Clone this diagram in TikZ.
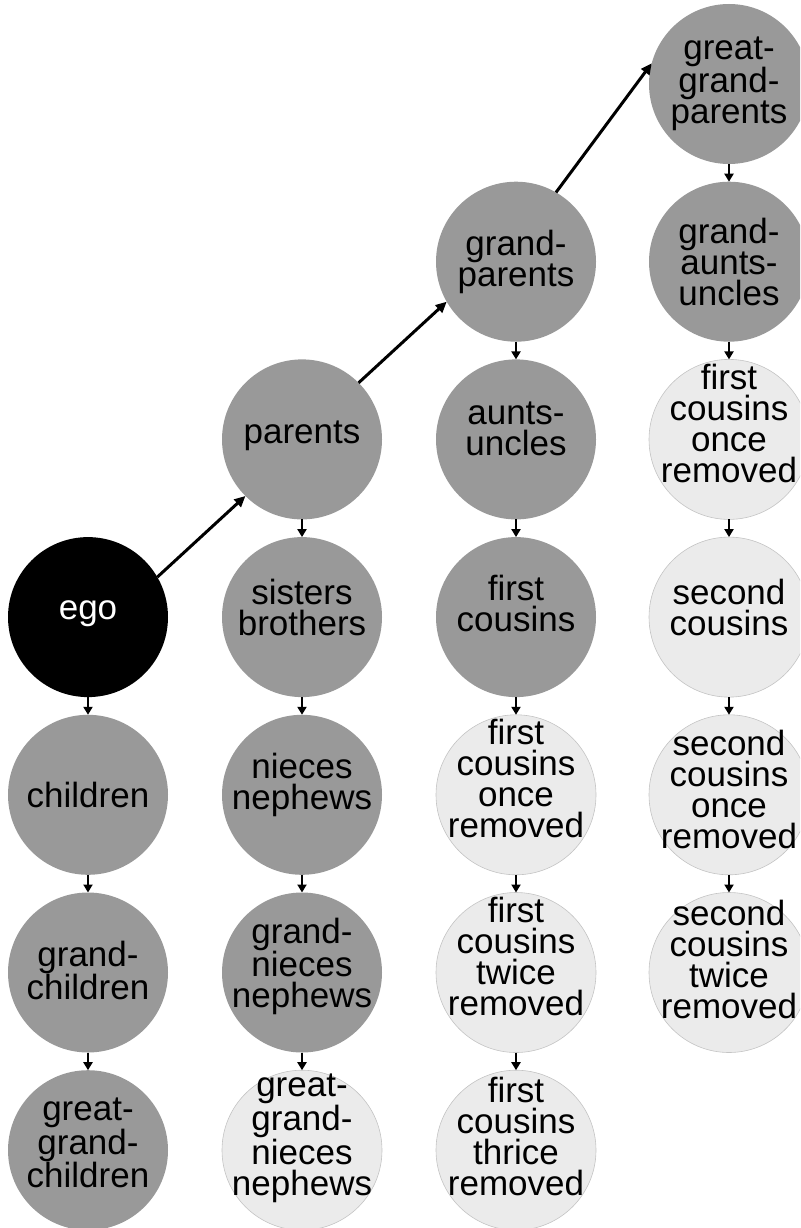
\documentclass[tikz,border=0pt]{standalone}
\usepackage{fontspec}
\setmainfont{Liberation Sans}
\usetikzlibrary{arrows.meta}
\definecolor{dark}{HTML}{999999}
\definecolor{light}{HTML}{EBEBEB}
\definecolor{lightline}{HTML}{C4C4C4}
\tikzset{
  circ/.style={circle, minimum size=160pt, inner sep=0pt, outer sep=0pt},
  egoc/.style={circ, fill=black},
  darkc/.style={circ, fill=dark},
  lightc/.style={circ, fill=light, draw=lightline, line width=0.6pt},
  every label/.style={align=center, font=\fontsize{35}{31}\selectfont, inner sep=0pt},
  down/.style={line width=2pt, -{Triangle[length=8pt,width=9pt]}},
  up/.style={line width=3pt, -{Triangle[length=11pt,width=10pt]}}
}
\begin{document}
\begin{tikzpicture}[x=1pt,y=-1pt]
\useasboundingbox (0,0) rectangle (800,1228);
\clip (0,0) rectangle (800,1228);
% column 1
\node[egoc, label={[text=white, yshift=3pt]center:ego}] (ego) at (88,617.1) {};
\node[darkc, label={center:children}] (chi) at (88,794.8) {};
\node[darkc, label={[yshift=2pt]center:grand-\\children}] (gchi) at (88,972.5) {};
\node[darkc, label={[yshift=7pt]center:great-\\grand-\\children}] (ggchi) at (88,1150.2) {};
% column 2
\node[darkc, label={[yshift=4pt]center:parents}] (par) at (302,439.4) {};
\node[darkc, label={[yshift=10pt]center:sisters\\brothers}] (sib) at (302,617.1) {};
\node[darkc, label={[yshift=10pt]center:nieces\\nephews}] (nie) at (302,794.8) {};
\node[darkc, label={[yshift=6pt]center:grand-\\nieces\\nephews}] (gnie) at (302,972.5) {};
\node[lightc, label={[yshift=12pt]center:great-\\grand-\\nieces\\nephews}] (ggnie) at (302,1150.2) {};
% column 3
\node[darkc, label={center:grand-\\parents}] (gpar) at (516,261.7) {};
\node[darkc, label={[yshift=11pt]center:aunts-\\uncles}] (au) at (516,439.4) {};
\node[darkc, label={[yshift=14pt]center:first\\cousins}] (fc) at (516,617.1) {};
\node[lightc, label={[yshift=16pt]center:first\\cousins\\once\\removed}] (fc1) at (516,794.8) {};
\node[lightc, label={[yshift=16pt]center:first\\cousins\\twice\\removed}] (fc2) at (516,972.5) {};
\node[lightc, label={[yshift=14pt]center:first\\cousins\\thrice\\removed}] (fc3) at (516,1150.2) {};
% column 4
\node[darkc, label={center:great-\\grand-\\parents}] (ggpar) at (729,84) {};
\node[darkc, label={center:grand-\\aunts-\\uncles}] (gau) at (729,261.7) {};
\node[lightc, label={[yshift=16pt]center:first\\cousins\\once\\removed}] (c41) at (729,439.4) {};
\node[lightc, label={[yshift=10pt]center:second\\cousins}] (sc) at (729,617.1) {};
\node[lightc, label={[yshift=5pt]center:second\\cousins\\once\\removed}] (sc1) at (729,794.8) {};
\node[lightc, label={[yshift=13pt]center:second\\cousins\\twice\\removed}] (sc2) at (729,972.5) {};
% diagonal arrows
\draw[up] (ego.30) -- (par.225);
\draw[up] (par.45) -- (gpar.210);
\draw[up] (gpar.60) -- (ggpar.165);
% vertical arrows
\draw[down] (ego.south) -- (chi.north);
\draw[down] (chi.south) -- (gchi.north);
\draw[down] (gchi.south) -- (ggchi.north);
\draw[down] (par.south) -- (sib.north);
\draw[down] (sib.south) -- (nie.north);
\draw[down] (nie.south) -- (gnie.north);
\draw[down] (gnie.south) -- (ggnie.north);
\draw[down] (gpar.south) -- (au.north);
\draw[down] (au.south) -- (fc.north);
\draw[down] (fc.south) -- (fc1.north);
\draw[down] (fc1.south) -- (fc2.north);
\draw[down] (fc2.south) -- (fc3.north);
\draw[down] (ggpar.south) -- (gau.north);
\draw[down] (gau.south) -- (c41.north);
\draw[down] (c41.south) -- (sc.north);
\draw[down] (sc.south) -- (sc1.north);
\draw[down] (sc1.south) -- (sc2.north);
\end{tikzpicture}
\end{document}
